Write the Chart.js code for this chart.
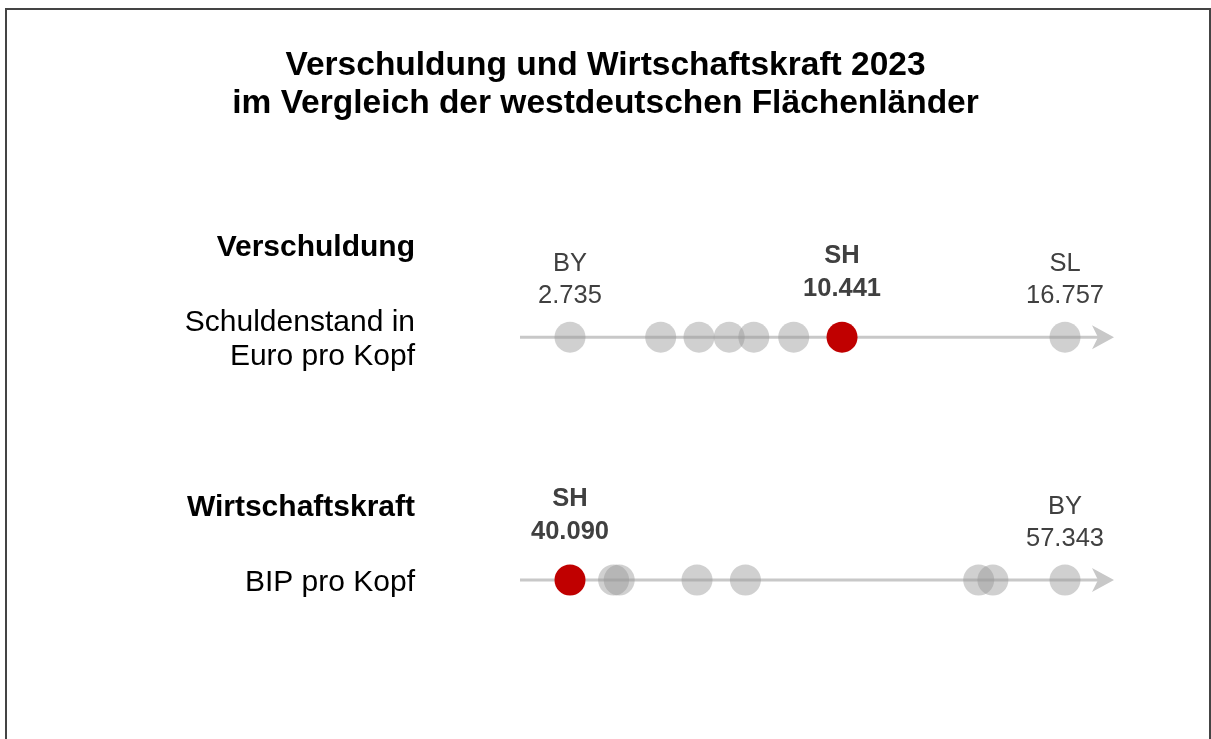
<!DOCTYPE html>
<html>
<head>
<meta charset="utf-8">
<title>Verschuldung und Wirtschaftskraft 2023</title>
<script src="https://cdn.jsdelivr.net/npm/chart.js@4.4.1/dist/chart.umd.min.js"></script>
<style>
  html, body { margin: 0; padding: 0; background: #fff; }
  #wrap { position: relative; width: 1211px; height: 739px; overflow: hidden; }
  #frame { position: absolute; left: 5px; top: 8px; width: 1206px; height: 800px; border: 2px solid #444; box-sizing: border-box; }
  #chartBox { position: absolute; left: 0; top: 0; width: 1211px; height: 739px; }
</style>
</head>
<body>
<div id="wrap">
  <div id="frame"></div>
  <div id="chartBox"><canvas id="myChart"></canvas></div>
</div>
<script>
// Daten 2023, Euro pro Kopf
const rowTitles = ['Verschuldung', 'Wirtschaftskraft'];
const rowSubtitles = [['Schuldenstand in', 'Euro pro Kopf'], ['BIP pro Kopf']];
const debtStates = ['BY', 'BW', 'HE', 'NI', 'RP', 'NW', 'SH', 'SL'];
const debtValues = [2735, 5304, 6389, 7245, 7942, 9072, 10441, 16757];
const gdpStates = ['SH', 'SL', 'RP', 'NI', 'NW', 'BW', 'HE', 'BY'];
const gdpValues = [40090, 41610, 41805, 44517, 46204, 54335, 54830, 57343];
const highlightState = 'SH';

const W = 1211;
const DOT_LEFT = 570, DOT_RIGHT = 1065;   // Pixel fuer Minimum / Maximum jeder Zeile
const FONT = "'Liberation Sans', Arial, sans-serif";
const GRAY_DOT = 'rgba(150,150,150,0.45)';
const RED = '#c00000';
const LINE = '#c8c8c8';

function fmt(v) {
    return String(v).replace(/\B(?=(\d{3})+(?!\d))/g, '.');
}

// Achsengrenzen so, dass Min und Max auf DOT_LEFT / DOT_RIGHT liegen
function bounds(values) {
    const lo = Math.min(...values), hi = Math.max(...values);
    const per = (hi - lo) / (DOT_RIGHT - DOT_LEFT);
    return { min: lo - DOT_LEFT * per, max: hi + (W - DOT_RIGHT) * per };
}

function points(states, values, row, wantHighlight) {
    const out = [];
    states.forEach((s, i) => {
        if ((s === highlightState) === wantHighlight) out.push({ x: values[i], y: row, state: s });
    });
    return out;
}

const rows = [
    { axis: 'x', states: debtStates, values: debtValues },
    { axis: 'x2', states: gdpStates, values: gdpValues }
];

const rowDecor = {
    id: 'rowDecor',
    beforeDatasetsDraw(chart) {
        const ctx = chart.ctx;
        rows.forEach((r, i) => {
            const sx = chart.scales[r.axis];
            const py = chart.scales.y.getPixelForValue(i);
            const x0 = sx.getPixelForValue(Math.min(...r.values)) - 50;
            const tip = sx.getPixelForValue(Math.max(...r.values)) + 49;
            ctx.save();
            ctx.strokeStyle = LINE;
            ctx.lineWidth = 3;
            ctx.beginPath();
            ctx.moveTo(x0, py);
            ctx.lineTo(tip - 12, py);
            ctx.stroke();
            ctx.fillStyle = LINE;
            ctx.beginPath();
            ctx.moveTo(tip, py);
            ctx.lineTo(tip - 22, py - 12);
            ctx.lineTo(tip - 16, py);
            ctx.lineTo(tip - 22, py + 12);
            ctx.closePath();
            ctx.fill();
            ctx.restore();
        });
    },
    afterDraw(chart) {
        const ctx = chart.ctx;
        ctx.save();
        ctx.textBaseline = 'middle';
        rows.forEach((r, i) => {
            const sx = chart.scales[r.axis];
            const py = chart.scales.y.getPixelForValue(i);

            // Zeilenbeschriftung links
            const subs = rowSubtitles[i];
            const first = py - (subs.length - 1) * 17 + 3;
            ctx.textAlign = 'right';
            ctx.fillStyle = '#000';
            ctx.font = 'bold 30px ' + FONT;
            ctx.fillText(rowTitles[i], 415, first - 75);
            ctx.font = '30px ' + FONT;
            subs.forEach((t, k) => ctx.fillText(t, 415, first + k * 34));

            // Werte fuer Min, Max und SH
            const lo = Math.min(...r.values), hi = Math.max(...r.values);
            ctx.textAlign = 'center';
            ctx.fillStyle = '#404040';
            r.states.forEach((s, k) => {
                const v = r.values[k];
                const isHi = s === highlightState;
                if (!isHi && v !== lo && v !== hi) return;
                const px = sx.getPixelForValue(v);
                ctx.font = (isHi ? 'bold ' : '') + '25.5px ' + FONT;
                ctx.fillText(s, px, py + (isHi ? -81 : -73.5));
                ctx.fillText(fmt(v), px, py + (isHi ? -48 : -41.5));
            });
        });
        ctx.restore();
    }
};

const dotStyle = { pointRadius: 15.5, pointHoverRadius: 15.5, borderWidth: 0, clip: false };

const ctx = document.getElementById('myChart').getContext('2d');
const myChart = new Chart(ctx, {
    type: 'scatter',
    data: {
        datasets: [
            Object.assign({ data: points(debtStates, debtValues, rowTitles[0], true), xAxisID: 'x', backgroundColor: RED }, dotStyle),
            Object.assign({ data: points(gdpStates, gdpValues, rowTitles[1], true), xAxisID: 'x2', backgroundColor: RED }, dotStyle),
            Object.assign({ data: points(debtStates, debtValues, rowTitles[0], false), xAxisID: 'x', backgroundColor: GRAY_DOT }, dotStyle),
            Object.assign({ data: points(gdpStates, gdpValues, rowTitles[1], false), xAxisID: 'x2', backgroundColor: GRAY_DOT }, dotStyle)
        ]
    },
    options: {
        responsive: true,
        maintainAspectRatio: false,
        animation: false,
        events: [],
        layout: { autoPadding: false, padding: { left: 0, right: 0, top: 0, bottom: 37.5 } },
        scales: {
            x: Object.assign({ type: 'linear', display: false }, bounds(debtValues)),
            x2: Object.assign({ type: 'linear', display: false }, bounds(gdpValues)),
            y: { type: 'category', labels: rowTitles, offset: true, display: false }
        },
        plugins: {
            legend: { display: false },
            tooltip: { enabled: false },
            title: {
                display: true,
                text: ['Verschuldung und Wirtschaftskraft 2023', 'im Vergleich der westdeutschen Flächenländer'],
                color: '#000',
                font: { family: FONT, size: 33.5, weight: 'bold', lineHeight: 1.13 },
                padding: { top: 47, bottom: 93 }
            }
        }
    },
    plugins: [rowDecor]
});
</script>
</body>
</html>
